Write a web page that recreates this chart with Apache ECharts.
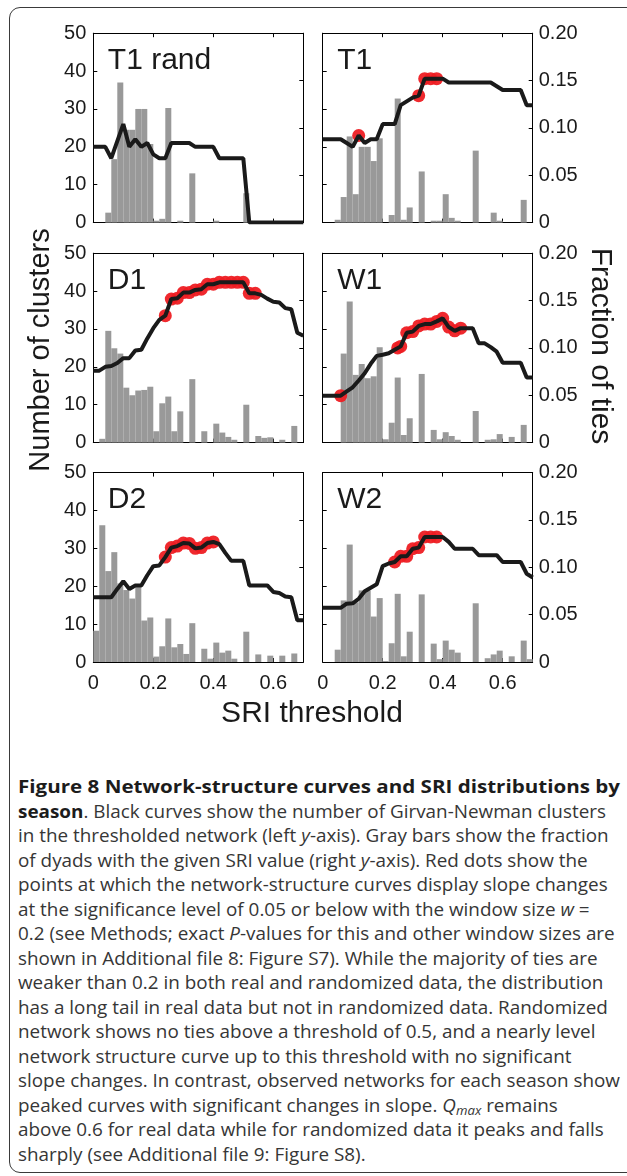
<!DOCTYPE html>
<html><head><meta charset="utf-8">
<script src="https://cdn.jsdelivr.net/npm/echarts@6/dist/echarts.min.js"></script>
<style>
html,body{margin:0;padding:0;background:#fff;width:627px;height:1176px;overflow:hidden;}
#frame{position:absolute;left:9px;top:7px;width:700px;height:1166px;border:1.5px solid #3a3a3a;border-radius:11px;box-sizing:border-box;}
#chart{position:absolute;left:0;top:0;width:627px;height:740px;}
#cap{position:absolute;left:18px;top:774px;font-family:"Open Sans",sans-serif;font-size:18px;line-height:24.5px;color:#363636;transform-origin:0 0;}
#cap .ln{white-space:nowrap;height:24.5px;}
#cap .ln span{display:inline-block;transform-origin:0 0;}
#cap b{color:#1c1c1c;font-weight:700;}
#cap i{font-style:italic;}
#cap sub{font-size:0.7em;line-height:0;vertical-align:-0.25em;}
</style></head>
<body>
<div id="frame"></div>
<div id="chart"></div>
<div id="cap">
<div class="ln"><span id="boldline"><b>Figure 8 Network-structure curves and SRI distributions by</b></span></div>
<div class="ln"><span class="reg"><b>season</b>. Black curves show the number of Girvan-Newman clusters</span></div>
<div class="ln"><span class="reg">in the thresholded network (left <i>y</i>-axis). Gray bars show the fraction</span></div>
<div class="ln"><span class="reg">of dyads with the given SRI value (right <i>y</i>-axis). Red dots show the</span></div>
<div class="ln"><span class="reg">points at which the network-structure curves display slope changes</span></div>
<div class="ln"><span class="reg">at the significance level of 0.05 or below with the window size <i>w</i> =</span></div>
<div class="ln"><span class="reg">0.2 (see Methods; exact <i>P</i>-values for this and other window sizes are</span></div>
<div class="ln"><span class="reg">shown in Additional file 8: Figure S7). While the majority of ties are</span></div>
<div class="ln"><span class="reg">weaker than 0.2 in both real and randomized data, the distribution</span></div>
<div class="ln"><span class="reg">has a long tail in real data but not in randomized data. Randomized</span></div>
<div class="ln"><span class="reg">network shows no ties above a threshold of 0.5, and a nearly level</span></div>
<div class="ln"><span class="reg">network structure curve up to this threshold with no significant</span></div>
<div class="ln"><span class="reg">slope changes. In contrast, observed networks for each season show</span></div>
<div class="ln"><span class="reg">peaked curves with significant changes in slope. <i>Q<sub>max</sub></i> remains</span></div>
<div class="ln"><span class="reg">above 0.6 for real data while for randomized data it peaks and falls</span></div>
<div class="ln"><span class="reg">sharply (see Additional file 9: Figure S8).</span></div>
</div>
<script>
// ---- data ----
const thresholds = [0,0.02,0.04,0.06,0.08,0.10,0.12,0.14,0.16,0.18,0.20,0.22,0.24,0.26,0.28,0.30,0.32,0.34,0.36,0.38,0.40,0.42,0.44,0.46,0.48,0.50,0.52,0.54,0.56,0.58,0.60,0.62,0.64,0.66,0.68,0.70];
const binCenters = [0.01,0.03,0.05,0.07,0.09,0.11,0.13,0.15,0.17,0.19,0.21,0.23,0.25,0.27,0.29,0.31,0.33,0.35,0.37,0.39,0.41,0.43,0.45,0.47,0.49,0.51,0.53,0.55,0.57,0.59,0.61,0.63,0.65,0.67,0.69];
const xTicks = [0,0.2,0.4,0.6];
const leftTicks = [0,10,20,30,40,50];
const rightTicks = ['0','0.05','0.10','0.15','0.20'];

const t1randClusters = [20,20,20,17,21.5,26,20,22,20,21,18,17,17,21,21,21,21,20,20,20,20,17,17,17,17,17,0,0,0,0,0,0,0,0,0,0];
const t1randFractions = [0,0,0.0105,0.067,0.148,0.098,0.098,0.12,0.12,0.083,0.002,0.004,0.121,0,0.002,0,0.052,0,0,0,0.002,0,0,0,0,0.031,0,0,0,0,0,0,0,0,0];
const t1randRed = [];

const t1Clusters = [22,22,22,22,21,20,23,21,22,22,26,26,26,31,32,33,33.5,38,38,38,38,37,37,37,37,37,37,37,37,36,35,35,35,35,31,31];
const t1Fractions = [0,0,0.003,0.027,0.091,0.030,0.080,0.080,0.065,0.089,0,0.008,0.131,0.003,0.016,0,0.054,0,0.002,0.002,0.030,0.005,0.002,0,0,0.076,0,0,0.0105,0.002,0,0,0,0.024,0];
const t1Red = [[0.12,23],[0.32,33.5],[0.34,38],[0.36,38],[0.38,38]];

const d1Clusters = [19,19,20,20.2,21,22.3,22.3,24.3,24.5,27.5,30.2,32.4,33.5,37.9,38.1,39.6,39.6,40.3,40.5,41.8,41.8,42.3,42.3,42.3,42.3,42.3,39.4,39.4,39,38,37.2,37,35.5,35.2,29,28.2];
const d1Fractions = [0,0.004,0.118,0.0996,0.094,0.058,0.050,0.055,0.0556,0.059,0.012,0.0415,0.0486,0.012,0.033,0,0.067,0,0.012,0,0.020,0.0106,0.006,0.003,0,0.040,0,0.007,0.005,0.0056,0,0.003,0,0.0176,0];
const d1Red = [[0.24,33.5],[0.26,37.9],[0.28,38.1],[0.30,39.6],[0.32,39.6],[0.34,40.3],[0.36,40.5],[0.38,41.8],[0.40,41.8],[0.42,42.3],[0.44,42.3],[0.46,42.3],[0.48,42.3],[0.50,42.3],[0.52,39.4],[0.54,39.4]];

const w1Clusters = [12.4,12.4,12.4,12.4,13.5,14.6,16.4,18.3,20.8,22.9,23.2,23.6,24.5,25.4,29,29.3,30.8,31.3,31.3,32,32.8,30.5,29.5,30.2,30.2,30.2,26.2,26.2,25.2,24,21.1,21.1,21.1,21.1,17.2,17.2];
const w1Fractions = [0,0,0,0.094,0.149,0.0715,0.083,0.068,0.070,0.1007,0.0035,0.021,0.0687,0.008,0.0257,0,0.0725,0,0.0134,0.0035,0.011,0.007,0.003,0,0,0.0334,0,0.003,0.0035,0.009,0,0.006,0,0.0187,0];
const w1Red = [[0.06,12.4],[0.25,25],[0.26,25.4],[0.28,29],[0.30,29.3],[0.32,30.8],[0.34,31.3],[0.36,31.3],[0.38,32],[0.40,32.8],[0.42,30.5],[0.44,29.5],[0.46,30.2]];

const d2Clusters = [17.1,17.1,17.1,17.1,19.3,21.3,19.3,20.2,20.2,22.9,25.3,25.5,27.7,30.2,30.6,31.4,31.3,30,30.2,31.4,31.7,31.1,28.8,26.7,26.7,26.7,20.2,20.2,20.2,20.2,18.5,18.2,17.3,17.1,11,11];
const d2Fractions = [0.033,0.1445,0.096,0.116,0.083,0.076,0.067,0.079,0.0438,0.047,0.0057,0.0166,0.046,0.0155,0.019,0.0085,0.041,0,0.014,0.0035,0.0205,0.0099,0.012,0.0035,0,0.032,0,0.008,0,0.0067,0,0.0067,0,0.009,0];
const d2Red = [[0.24,27.7],[0.26,30.2],[0.28,30.6],[0.30,31.4],[0.32,31.3],[0.34,30],[0.36,30.2],[0.38,31.4],[0.40,31.7]];

const w2Clusters = [14.3,14.3,14.3,14.3,15.4,15.5,16.7,18.7,19.6,20.5,25.3,26,26.4,27.9,27.9,29.9,30.2,33,33,33,33,31.7,29.9,29.9,29.9,29.9,28.2,28.2,28.2,28.2,26.4,26.4,26.4,26.4,23.3,22.3];
const w2Fractions = [0,0,0.013,0.065,0.124,0.063,0.0756,0.0756,0.048,0.0675,0.001,0.0198,0.072,0.006,0.032,0,0.0714,0,0.0194,0.003,0.0226,0.013,0.0099,0,0,0.062,0,0.004,0.008,0.012,0,0.006,0,0.0226,0.003];
const w2Red = [[0.24,26.4],[0.26,27.9],[0.28,27.9],[0.30,29.9],[0.32,30.2],[0.34,33],[0.36,33],[0.38,33]];

const panelNames = ['T1 rand','T1','D1','W1','D2','W2'];
const panelClusters = [t1randClusters,t1Clusters,d1Clusters,w1Clusters,d2Clusters,w2Clusters];
const panelFractions = [t1randFractions,t1Fractions,d1Fractions,w1Fractions,d2Fractions,w2Fractions];
const panelRed = [t1randRed,t1Red,d1Red,w1Red,d2Red,w2Red];

// ---- layout ----
const colLeft = [93.3, 322.7];
const rowTop = [33.2, 253.2, 472.6];
const plotW = 210, plotH = 189.4;
const FONT = '"Liberation Sans", Arial, Helvetica, sans-serif';
const INK = '#1a1a1a';

const grid = [], xAxis = [], yAxis = [], series = [], graphic = [];
for (let i = 0; i < 6; i++) {
  const col = i % 2, row = Math.floor(i / 2);
  grid.push({left: colLeft[col], top: rowTop[row], width: plotW, height: plotH});
  const axisLine = {show: true, onZero: false, lineStyle: {color: '#000', width: 1}};
  const axisTick = {show: true, inside: true, length: 4, lineStyle: {color: '#000', width: 1}};
  xAxis.push({gridIndex: i, type: 'value', position: 'bottom', min: 0, max: 0.7, interval: 0.2,
    axisLine, axisTick, splitLine: {show: false},
    axisLabel: {show: row === 2, showMaxLabel: false, fontSize: 20, fontFamily: FONT, color: INK, margin: 11,
      formatter: v => { const k = xTicks.findIndex(t => Math.abs(t - v) < 1e-6); return k >= 0 ? String(xTicks[k]) : ''; }}});
  xAxis.push({gridIndex: i, type: 'value', position: 'top', min: 0, max: 0.7, interval: 0.2,
    axisLine, axisTick, splitLine: {show: false}, axisLabel: {show: false}});
  yAxis.push({gridIndex: i, type: 'value', position: 'left', min: 0, max: 50, interval: 10,
    axisLine, axisTick, splitLine: {show: false},
    axisLabel: {show: col === 0, fontSize: 20, fontFamily: FONT, color: INK, margin: 7,
      formatter: v => { const k = leftTicks.findIndex(t => Math.abs(t - v) < 1e-6); return k >= 0 ? String(leftTicks[k]) : ''; }}});
  yAxis.push({gridIndex: i, type: 'value', position: 'right', min: 0, max: 0.2, interval: 0.05,
    axisLine, axisTick, splitLine: {show: false},
    axisLabel: {show: col === 1, fontSize: 20, fontFamily: FONT, color: INK, margin: 6,
      formatter: v => rightTicks[Math.round(v / 0.05)] || ''}});

  series.push({type: 'bar', xAxisIndex: 2 * i, yAxisIndex: 2 * i + 1, barWidth: 6, silent: true, z: 1,
    itemStyle: {color: '#999999'},
    data: binCenters.map((c, k) => [c, panelFractions[i][k]])});
  series.push({type: 'scatter', xAxisIndex: 2 * i, yAxisIndex: 2 * i, symbolSize: 13, silent: true, z: 3,
    itemStyle: {color: '#ee1d23', opacity: 0.95},
    data: panelRed[i]});
  series.push({type: 'line', xAxisIndex: 2 * i, yAxisIndex: 2 * i, showSymbol: false, silent: true, z: 5,
    lineStyle: {color: '#1a1a1a', width: 4}, data: thresholds.map((t, k) => [t, panelClusters[i][k]])});

  graphic.push({type: 'text', x: colLeft[col] + 14.5, y: rowTop[row] + 12.5, silent: true,
    style: {text: panelNames[i], font: '30px ' + FONT, fill: INK, align: 'left', verticalAlign: 'top', textAlign: 'left', textVerticalAlign: 'top'}});
}
graphic.push({type: 'text', x: 40.5, y: 350, rotation: Math.PI / 2, silent: true,
  style: {text: 'Number of clusters', font: '29px ' + FONT, fill: INK, align: 'center', verticalAlign: 'middle', textAlign: 'center', textVerticalAlign: 'middle'}});
graphic.push({type: 'text', x: 600, y: 346, rotation: -Math.PI / 2, silent: true,
  style: {text: 'Fraction of ties', font: '30px ' + FONT, fill: INK, align: 'center', verticalAlign: 'middle', textAlign: 'center', textVerticalAlign: 'middle'}});
graphic.push({type: 'text', x: 312, y: 714, silent: true,
  style: {text: 'SRI threshold', font: '30px ' + FONT, fill: INK, align: 'center', verticalAlign: 'middle', textAlign: 'center', textVerticalAlign: 'middle'}});

const chart = echarts.init(document.getElementById('chart'), null, {renderer: 'canvas'});
chart.setOption({animation: false, backgroundColor: 'transparent', grid, xAxis, yAxis, series, graphic});

// ---- caption: ragged-right lines, condensed so the longest fits the reference measure ----
function fitCaption() {
  const cap = document.getElementById('cap');
  const target = 602;
  let maxW = 0;
  cap.querySelectorAll('.reg').forEach(sp => { maxW = Math.max(maxW, sp.getBoundingClientRect().width); });
  const s = target / maxW;
  cap.style.transform = 'scaleX(' + s + ')';
  const bl = document.getElementById('boldline');
  const bw = bl.getBoundingClientRect().width; // already scaled by s
  bl.style.transform = 'scaleX(' + (target / bw) + ')';
}
if (document.fonts && document.fonts.ready) { document.fonts.ready.then(fitCaption); } else { fitCaption(); }
</script>
</body></html>
